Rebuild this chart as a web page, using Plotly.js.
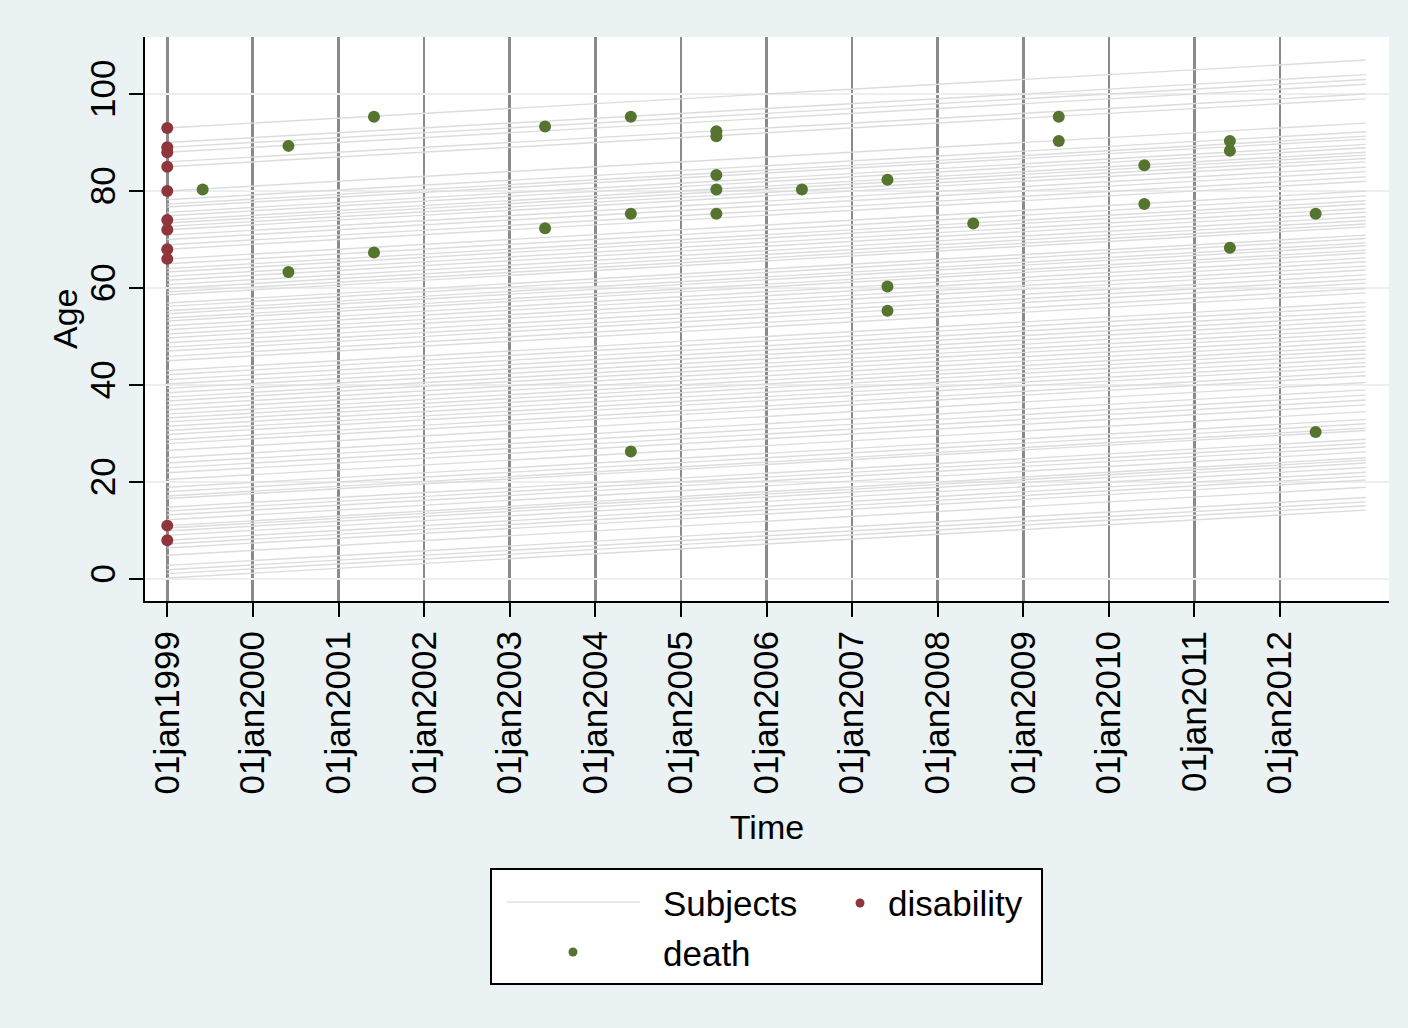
<!DOCTYPE html>
<html>
<head>
<meta charset="utf-8">
<script src="https://cdn.plot.ly/plotly-3.0.1.min.js"></script>
<style>
  html, body { margin: 0; padding: 0; background: #eaf2f3; }
  #chart { width: 1408px; height: 1028px; }
</style>
</head>
<body>
<div id="chart"></div>
<script>
// Lexis diagram: follow-up of each subject from entry to end of study

// Study window for every subject line
const entryDate = '1999-01-01';
const exitDate = '2013-01-01';

// Age (years) of each subject at entry, 01jan1999
const entryAges = [
  93, 90, 89, 88, 86, 85, 80, 78.2, 77.3, 76.7, 75.6, 74.9, 74, 73.4, 72.7, 72,
  70.9, 70, 68.9, 68, 66, 65, 64, 63.3, 62.4, 61.6, 60.7, 59.9, 59.2, 58.6,
  56.9, 56.2, 55.3, 54.7, 53.8, 53.2, 52.2, 51.4, 50.5, 49.7, 48.7, 47.8, 47,
  45.9, 45, 43, 42.1, 41.1, 40.2, 39.3, 38.4, 37.5, 36.7, 35.8, 34.9, 34,
  33.2, 32.4, 31.5, 30.6, 29.8, 28.7, 27.9, 26.5, 25, 23.9, 22.9, 21.9, 20.5,
  18.9, 18, 17.1, 16.6, 14.8, 14, 13.2, 12.2, 11, 10.5, 9.9, 9, 8, 7.2, 6.4,
  4.9, 2.8, 1.9, 1.1, 0.2
];

// Disability events (all recorded at entry)
const disabilityDates = ['1999-01-01','1999-01-01','1999-01-01','1999-01-01','1999-01-01','1999-01-01',
                         '1999-01-01','1999-01-01','1999-01-01','1999-01-01','1999-01-01'];
const disabilityAges = [93, 89, 88, 85, 80, 74, 72, 68, 66, 11, 8];

// Death events
const deathDates = [
  '1999-06-01',
  '2000-06-01', '2000-06-01',
  '2001-06-01', '2001-06-01',
  '2003-06-01', '2003-06-01',
  '2004-06-01', '2004-06-01', '2004-06-01',
  '2005-06-01', '2005-06-01', '2005-06-01', '2005-06-01', '2005-06-01',
  '2006-06-01',
  '2007-06-01', '2007-06-01', '2007-06-01',
  '2008-06-01',
  '2009-06-01', '2009-06-01',
  '2010-06-01', '2010-06-01',
  '2011-06-01', '2011-06-01', '2011-06-01',
  '2012-06-01', '2012-06-01'
];
const deathAges = [
  80.3,
  89.3, 63.3,
  95.3, 67.3,
  93.3, 72.3,
  95.3, 75.3, 26.3,
  92.3, 91.3, 83.3, 80.3, 75.3,
  80.3,
  82.3, 60.3, 55.3,
  73.3,
  95.3, 90.3,
  85.3, 77.3,
  90.3, 88.3, 68.3,
  75.3, 30.3
];

// Axis ticks
const yearTicks = ['1999-01-01','2000-01-01','2001-01-01','2002-01-01','2003-01-01','2004-01-01','2005-01-01',
                   '2006-01-01','2007-01-01','2008-01-01','2009-01-01','2010-01-01','2011-01-01','2012-01-01'];
const yearTickText = ['01jan1999','01jan2000','01jan2001','01jan2002','01jan2003','01jan2004','01jan2005',
                      '01jan2006','01jan2007','01jan2008','01jan2009','01jan2010','01jan2011','01jan2012'];
const ageTicks = [0, 20, 40, 60, 80, 100];

// Legend entries and axis titles
const legendLabels = ['Subjects', 'disability', 'death'];
const xTitle = 'Time';
const yTitle = 'Age';

// Colours
const subjColor = '#dcdcdc';
const disabColor = '#90353b';
const deathColor = '#55752f';

// Build the subject life lines: age rises one year per calendar year
const msYear = 365.25 * 24 * 3600 * 1000;
const followYears = (Date.parse(exitDate) - Date.parse(entryDate)) / msYear;
const lx = [], ly = [];
entryAges.forEach(a => {
  lx.push(entryDate, exitDate, null);
  ly.push(a, a + followYears, null);
});

const traces = [
  { type: 'scatter', mode: 'lines', x: lx, y: ly, name: legendLabels[0],
    line: { color: subjColor, width: 1.4 }, hoverinfo: 'skip', showlegend: false },
  { type: 'scatter', mode: 'markers', x: disabilityDates, y: disabilityAges, name: legendLabels[1],
    marker: { color: disabColor, size: 12, line: { width: 0 } }, showlegend: false },
  { type: 'scatter', mode: 'markers', x: deathDates, y: deathAges, name: legendLabels[2],
    marker: { color: deathColor, size: 12, line: { width: 0 } }, showlegend: false }
];

// Plot-area geometry (pixels) for placing the legend box and y title
const W = 1408, H = 1028, mL = 145, mR = 19, mT = 37, mB = 427;
const pw = W - mL - mR, ph = H - mT - mB;
const px = x => (x - mL) / pw;
const py = y => (H - mB - y) / ph;

const fontFam = 'Liberation Sans, Arial, Helvetica, sans-serif';

const shapes = [
  { type: 'rect', xref: 'paper', yref: 'paper', x0: px(491), x1: px(1042), y0: py(984), y1: py(869),
    fillcolor: '#ffffff', line: { color: '#000000', width: 2 } },
  { type: 'line', xref: 'paper', yref: 'paper', x0: px(507), x1: px(640), y0: py(902), y1: py(902),
    line: { color: '#e8e8e8', width: 2 } },
  { type: 'circle', xref: 'paper', yref: 'paper', xsizemode: 'pixel', ysizemode: 'pixel',
    xanchor: px(860), yanchor: py(903), x0: -4.5, x1: 4.5, y0: -4.5, y1: 4.5,
    fillcolor: disabColor, line: { width: 0 } },
  { type: 'circle', xref: 'paper', yref: 'paper', xsizemode: 'pixel', ysizemode: 'pixel',
    xanchor: px(573), yanchor: py(952), x0: -4.5, x1: 4.5, y0: -4.5, y1: 4.5,
    fillcolor: deathColor, line: { width: 0 } }
];

const annotations = [
  { text: legendLabels[0], x: px(661), y: py(903) },
  { text: legendLabels[1], x: px(886), y: py(903) },
  { text: legendLabels[2], x: px(661), y: py(953) }
].map(a => Object.assign({
  xref: 'paper', yref: 'paper', xanchor: 'left', yanchor: 'middle', showarrow: false,
  font: { family: fontFam, size: 35, color: '#000000' }
}, a));

// Y axis title, rotated
annotations.push({
  text: yTitle, xref: 'paper', yref: 'paper', x: px(65), y: py(319),
  xanchor: 'center', yanchor: 'middle', textangle: -90, showarrow: false,
  font: { family: fontFam, size: 34, color: '#000000' }
});

const layout = {
  width: W, height: H,
  margin: { l: mL, r: mR, t: mT, b: mB, pad: 0 },
  paper_bgcolor: '#eaf2f3',
  plot_bgcolor: '#ffffff',
  font: { family: fontFam, size: 34, color: '#000000' },
  showlegend: false,
  xaxis: {
    type: 'date',
    range: ['1998-09-28', '2013-04-10'],
    tickmode: 'array', tickvals: yearTicks, ticktext: yearTickText,
    tickangle: -90,
    tickfont: { size: 35 },
    ticks: 'outside', ticklen: 14, tickwidth: 2, tickcolor: '#000000',
    showgrid: true, gridcolor: '#8a8a8a', gridwidth: 2.7,
    showline: true, linecolor: '#000000', linewidth: 2, mirror: false,
    zeroline: false,
    title: { text: xTitle, font: { size: 34 }, standoff: 22 },
    automargin: false
  },
  yaxis: {
    range: [-4.54, 111.75],
    tickmode: 'array', tickvals: ageTicks,
    tickangle: -90,
    tickfont: { size: 35 },
    ticks: 'outside', ticklen: 14, tickwidth: 2, tickcolor: '#000000',
    showgrid: true, gridcolor: '#e8f0f2', gridwidth: 2.2,
    showline: true, linecolor: '#000000', linewidth: 2, mirror: false,
    zeroline: false,
    automargin: false
  },
  shapes: shapes,
  annotations: annotations
};

Plotly.newPlot('chart', traces, layout, { displayModeBar: false, staticPlot: true });
</script>
</body>
</html>
